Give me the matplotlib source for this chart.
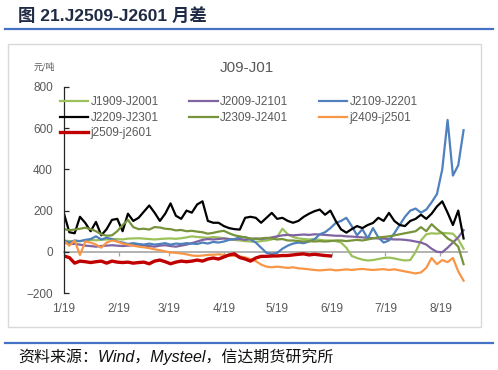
import matplotlib
matplotlib.use("Agg")
import matplotlib.pyplot as plt
from matplotlib.patches import Rectangle
from matplotlib.lines import Line2D
import pandas as pd

# ---------------- data (3-day sampling from 1/19) -------------
start = "2025-01-19"
month_ticks = ["2025-01-19", "2025-02-19", "2025-03-19", "2025-04-19",
               "2025-05-19", "2025-06-19", "2025-07-19", "2025-08-19"]
month_labels = ["1/19", "2/19", "3/19", "4/19", "5/19", "6/19", "7/19", "8/19"]

names = ["J1909-J2001", "J2009-J2101", "J2109-J2201", "J2209-J2301",
         "J2309-J2401", "j2409-j2501", "j2509-j2601"]

j1909 = [55, 52, 50, 52, 55, 58, 56, 58, 60, 62,
         62, 60, 64, 65, 66, 64, 62, 60, 62, 64,
         65, 63, 66, 70, 75, 72, 70, 68, 72, 70,
         65, 62, 58, 55, 52, 50, 48, 52, 55, 60,
         72, 112, 85, 72, 65, 62, 60, 62, 58, 55,
         55, 52, 45, 20, -20, -30, -38, -42, -40, -35,
         -30, -28, -32, -38, -42, -40, 0, 55, 85, 90,
         88, 92, 90, 88, 60, 15]
j2009 = [45, 40, 38, 35, 30, 28, 25, 28, 30, 32,
         30, 28, 30, 32, 35, 30, 28, 25, 30, 32,
         28, 25, 30, 35, 42, 50, 58, 62, 60, 62,
         65, 62, 60, 62, 58, 62, 65, 62, 65, 70,
         75, 80, 82, 80, 82, 84, 82, 85, 84, 82,
         80, 78, 78, 75, 74, 72, 70, 68, 66, 65,
         64, 62, 60, 60, 58, 55, 50, 45, 35, 15,
         0, -2, 20, 45, 70, 105]
j2109 = [55, 45, 55, 52, 58, 62, 75, 60, 68, 62,
         50, 45, 38, 42, 38, 35, 40, 35, 38, 42,
         35, 40, 38, 42, 40, 38, 45, 40, 48, 45,
         50, 58, 62, 70, 72, 60, 45, 20, -5, -10,
         -5, 15, 30, 40, 45, 42, 50, 60, 85, 95,
         115, 140, 150, 165, 125, 80, 110, 65, 115, 70,
         45, 55, 90, 130, 170, 200, 210, 190, 205, 240,
         280, 400, 640, 370, 420, 590]
j2209 = [185, 95, 90, 170, 140, 100, 145, 80, 110, 155,
         160, 100, 185, 150, 165, 195, 225, 190, 150, 185,
         235, 175, 160, 200, 190, 230, 245, 150, 141, 141,
         125, 115, 110, 108, 165, 170, 165, 141, 165, 189,
         160, 165, 150, 141, 150, 170, 185, 197, 205, 180,
         200, 150, 109, 93, 110, 125, 115, 130, 140, 165,
         150, 189, 150, 130, 125, 150, 160, 180, 160, 185,
         220, 245, 190, 130, 200, 65]
j2309 = [110, 105, 108, 112, 117, 110, 100, 85, 78, 80,
         100, 130, 155, 120, 110, 112, 108, 120, 118, 112,
         110, 104, 106, 100, 102, 98, 95, 88, 92, 98,
         102, 90, 80, 75, 70, 65, 62, 65, 68, 65,
         60, 62, 55, 55, 52, 50, 52, 50, 52, 50,
         52, 55, 55, 52, 55, 58, 55, 60, 65, 70,
         72, 75, 80, 85, 90, 95, 100, 120, 100, 134,
         110, 90, 65, 50, 25, -60]
j2409 = [53, 30, 55, -15, 50, 45, 35, 20, 45, 55,
         50, 40, 35, 30, 25, 22, 18, 12, 8, 2,
         -3, -5, -8, -12, -18, -20, -18, -15, -14, -12,
         -15, -18, -20, -22, -27, -35, -45, -62, -72, -75,
         -72, -75, -78, -75, -80, -82, -85, -88, -90, -88,
         -86, -90, -88, -85, -88, -85, -83, -86, -88, -86,
         -84, -88, -85, -90, -95, -100, -105, -100, -78, -30,
         -60, -40, -50, -30, -95, -140]
j2509 = [-20, -28, -55, -45, -48, -52, -48, -45, -55, -45,
         -50, -52, -50, -55, -52, -50, -58, -45, -40, -48,
         -58, -50, -45, -48, -45, -40, -45, -35, -30, -35,
         -25, -15, -10, -28, -35, -45, -30, -22, -22, -20,
         -20, -18, -18, -15, -12, -10, -15, -12, -15, -18,
         -20]

series = [j1909, j2009, j2109, j2209, j2309, j2409, j2509]
colors = ["#9BC25A", "#8064A2", "#4F81BD", "#000000", "#77933C", "#F79646", "#C00000"]
widths = [1.6, 1.6, 1.6, 1.6, 1.6, 1.6, 2.4]

# ---------------- figure ----------------
plt.rcParams["font.family"] = ["Liberation Sans", "Noto Sans CJK SC"]
fig = plt.figure(figsize=(4.98, 3.70), dpi=100)

# header / footer decorations
fig.add_artist(Line2D([0.01, 0.99], [0.921, 0.921], color="#4472C4", lw=1.6,
                      transform=fig.transFigure))
fig.add_artist(Line2D([0.01, 0.99], [0.073, 0.073], color="#4472C4", lw=1.6,
                      transform=fig.transFigure))
fig.text(0.036, 0.958, "图 21.J2509-J2601 月差", fontsize=12.5, fontweight="bold",
         color="#1F2A44", ha="left", va="center",
         family=["Liberation Sans", "Noto Sans CJK SC"])
fig.text(0.036, 0.035, "资料来源：Wind，Mysteel，信达期货研究所", fontsize=11.5,
         style="italic", color="#111111", ha="left", va="center",
         family=["Liberation Sans", "Noto Sans CJK SC"])

# chart frame
fig.add_artist(Rectangle((0.016, 0.116), 0.95, 0.765, transform=fig.transFigure,
                         fill=False, edgecolor="#D9D9D9", lw=1.0))
fig.text(0.496, 0.816, "J09-J01", fontsize=11, color="#595959", ha="center", va="center")
fig.text(0.068, 0.82, "元/吨", fontsize=6.5, color="#595959", ha="left", va="center",
         family=["Noto Sans CJK SC", "DejaVu Sans"])

ax = fig.add_axes([0.1285, 0.208, 0.8095, 0.557])

handles = {}
for name, vals, c, w in zip(names, series, colors, widths):
    dates = pd.date_range(start, periods=len(vals), freq="3D")
    ln, = ax.plot(dates, vals, color=c, lw=w, solid_joinstyle="round")
    handles[name] = ln

ax.set_ylim(-200, 800)
ax.set_yticks([-200, 0, 200, 400, 600, 800])
ax.set_xlim(pd.Timestamp(start), pd.Timestamp(start) + pd.Timedelta(days=227))
ax.set_xticks(pd.to_datetime(month_ticks))
ax.set_xticklabels(month_labels)

for s in ["top", "right"]:
    ax.spines[s].set_visible(False)
ax.spines["left"].set_color("#262626")
ax.spines["left"].set_linewidth(0.9)
ax.spines["bottom"].set_position(("data", 0))
ax.spines["bottom"].set_color("#A6A6A6")
ax.spines["bottom"].set_linewidth(1.2)
ax.spines["bottom"].set_zorder(0.5)

ax.tick_params(axis="y", direction="in", length=3.5, width=0.9, color="#262626",
               labelsize=8.5, labelcolor="#595959", pad=8)
ax.tick_params(axis="x", direction="out", length=3, width=0.9, color="#A6A6A6",
               labelsize=8.5, labelcolor="#595959", pad=34)

order = ["J1909-J2001", "J2209-J2301", "j2509-j2601",
         "J2009-J2101", "J2309-J2401",
         "J2109-J2201", "j2409-j2501"]
leg = ax.legend([handles[n] for n in order], order, ncol=3, frameon=False,
                loc="upper left", bbox_to_anchor=(-0.022, 0.978),
                fontsize=8.5, handlelength=2.4, handletextpad=0.2,
                columnspacing=2.6, labelspacing=0.3, borderaxespad=0)
for t in leg.get_texts():
    t.set_color("#595959")

fig.savefig("out.png", dpi=100)
